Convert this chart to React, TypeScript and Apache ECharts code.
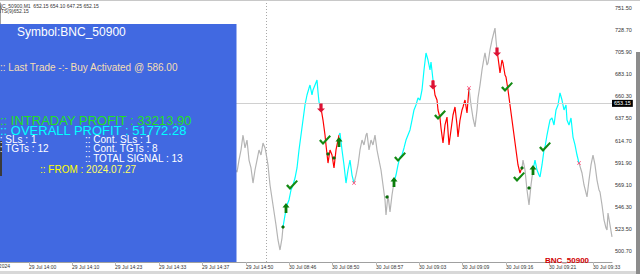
import React, { useEffect, useRef } from "react";
import * as echarts from "echarts";

// ---- price line (bar index, price) ----
const lineBars = [
  230, 234, 237, 239, 241, 243, 245, 247, 249, 251, 253, 255, 257, 259, 261, 263, 265, 266, 268, 270, 273, 276, 278, 280, 282, 283,
  285, 287, 289, 291, 293, 295, 297, 299, 301, 303, 305, 307, 309, 310, 312, 313, 315, 317, 318, 319, 321,
  323, 325, 326, 328, 330, 332, 334, 336, 338, 339,
  340, 342, 344, 346, 348, 350, 352, 354,
  356, 358, 360, 362, 364, 366, 367, 369, 371, 373, 375, 377, 379, 381, 383, 385, 386, 387, 388, 390, 392, 394,
  396, 398, 400, 402, 404, 406, 408, 410, 412, 414, 416, 418, 420, 422, 424, 426, 428, 430, 431, 433,
  435, 437, 438, 440, 441, 443, 445, 447, 449, 451, 453, 455, 457, 458, 460, 462, 463, 465, 467, 469,
  471, 473, 475, 477, 478, 480, 482, 484, 485, 487, 488, 490, 492, 494, 495, 496, 497,
  499, 500, 502, 503, 505, 506, 508, 510, 512, 514, 516, 518, 520, 521, 522,
  523, 525, 527, 529, 531, 533,
  535, 537, 539, 540, 542, 544, 545, 547, 549, 550, 552, 554, 556, 558, 560, 562, 564, 566, 567, 569, 571, 573, 575, 577, 579,
  582, 584, 587, 589, 591, 593, 595, 597, 599, 600, 602, 604, 606, 607, 608, 610, 612,
];
const linePrices = [
  594.5, 586.3, 582.1, 594.5, 604.9, 620.4, 607.0, 615.2, 594.5, 586.3, 570.7, 584.2, 594.5, 604.9, 599.7, 612.1, 607.0, 601.8, 589.4, 568.7, 548.0, 527.3, 511.8, 501.4, 513.8, 525.2,
  537.6, 548.0, 553.2, 563.5, 568.7, 575.9, 586.3, 604.9, 620.4, 635.9, 651.5, 661.8, 669.0, 672.1, 661.8, 667.0, 672.1, 677.3, 664.9, 654.6, 648.3,
  635.9, 620.4, 610.1, 591.4, 604.9, 599.7, 586.3, 604.9, 615.2, 620.4,
  622.5, 604.9, 589.4, 570.7, 584.2, 594.5, 579.0, 570.7,
  579.0, 589.4, 604.9, 615.2, 610.1, 620.4, 622.5, 604.9, 615.2, 610.1, 620.4, 604.9, 594.5, 584.2, 568.7, 553.2, 537.6, 548.0, 558.3, 540.7, 558.3, 571.8,
  579.0, 589.4, 597.6, 599.7, 607.0, 615.2, 620.4, 625.6, 635.9, 646.3, 651.5, 658.7, 656.6, 667.0, 687.7, 705.3, 698.0, 687.7, 695.9, 677.3,
  661.8, 656.6, 646.3, 638.0, 627.7, 612.1, 630.8, 639.0, 610.1, 625.6, 641.1, 649.4, 630.8, 618.3, 635.9, 646.3, 649.4, 656.6, 643.2, 669.0,
  651.5, 638.0, 628.7, 646.3, 658.7, 672.1, 687.7, 700.1, 705.3, 692.8, 694.9, 708.4, 718.7, 727.0, 731.1, 718.7, 708.4,
  692.8, 684.6, 698.0, 694.9, 682.5, 680.4, 667.0, 651.5, 635.9, 620.4, 604.9, 589.4, 581.1, 584.2, 586.3,
  594.5, 584.2, 563.5, 548.0, 568.7, 584.2,
  594.5, 584.2, 579.0, 577.0, 589.4, 604.9, 608.0, 620.4, 630.8, 635.9, 638.0, 630.8, 646.3, 651.5, 663.9, 656.6, 646.3, 651.5, 635.9, 630.8, 638.0, 618.3, 610.1, 599.7, 591.4,
  581.1, 568.7, 556.3, 573.8, 589.4, 599.7, 589.4, 573.8, 563.5, 561.4, 548.0, 532.5, 524.2, 522.1, 539.7, 527.3, 514.9,
];

// ---- trend segments ----
const segStart = [230, 283, 321, 339, 354, 394, 433, 469, 497, 522, 533, 579];
const segEnd = [283, 321, 339, 354, 394, 433, 469, 497, 522, 533, 579, 612];
const segTrend = ["flat", "up", "down", "up", "flat", "up", "down", "flat", "down", "flat", "up", "flat"];

// ---- signals ----
const buyBars = [286, 339, 394, 533];
const buyPrices = [544.9, 613.2, 571.8, 584.2];
const sellBars = [321, 433, 497];
const sellPrices = [648.3, 672.1, 706.3];
const targetBars = [292, 325, 400, 440, 507, 519, 545];
const targetPrices = [568.7, 615.2, 597.6, 641.1, 670.1, 577.0, 608.0];
const dotBars = [283, 328, 334, 387, 522, 529];
const dotPrices = [525.2, 600.8, 596.6, 556.3, 586.3, 565.6];
const exitBars = [354, 469, 579];
const exitPrices = [570.7, 669.0, 591.4];

// ---- axes ----
const yTicks = [500.7, 523.5, 546.3, 569.1, 591.9, 614.7, 637.5, 660.3, 683.1, 705.9, 728.7, 751.5];
const xLabelBars = [29, 72, 115, 159, 202, 246, 289, 332, 376, 419, 462, 506, 549, 593];
const xLabelTexts = [
  "29 Jul 14:00", "29 Jul 14:10", "29 Jul 14:23", "29 Jul 14:33", "29 Jul 14:37", "29 Jul 14:50",
  "30 Jul 08:46", "30 Jul 08:50", "30 Jul 08:57", "30 Jul 09:03", "30 Jul 09:09", "30 Jul 09:16",
  "30 Jul 09:21", "30 Jul 09:33",
];
const separatorBar = 266;
const bidPrice = 653.15;

const FONT = "'Liberation Sans', Arial, sans-serif";

const trendColors: Record<string, string> = { flat: "#b4b4b4", up: "#00ffff", down: "#ff0000" };

const UP_ARROW = "path://M4,0 L8,4.5 L5.6,4.5 L5.6,10 L2.4,10 L2.4,4.5 L0,4.5 Z";
const DOWN_ARROW = "path://M2.4,0 L5.6,0 L5.6,5.5 L8,5.5 L4,10 L0,5.5 L2.4,5.5 Z";
const CHECK = "path://M0,5.5 L1.8,4 L4,6.5 L10.5,0 L12,1.3 L4,9.5 Z";
const CROSS = "path://M0,1 L1,0 L5,4 L9,0 L10,1 L6,5 L10,9 L9,10 L5,6 L1,10 L0,9 L4,5 Z";

function txt(x: number, y: number, text: string, size: number, fill: string, extra: any = {}) {
  return {
    type: "text",
    x,
    y,
    z: 110,
    silent: true,
    style: {
      text,
      fill,
      fontSize: size,
      fontFamily: FONT,
      align: "left",
      verticalAlign: "middle",
      textAlign: "left",
      textVerticalAlign: "middle",
      ...extra,
    },
  };
}

export default function App() {
  const ref = useRef<HTMLDivElement>(null);

  useEffect(() => {
    if (!ref.current) return;
    const chart = echarts.init(ref.current, undefined, { renderer: "svg" });

    const lineSeries: any[] = segTrend.map((t, i) => ({
      type: "line",
      data: lineBars
        .map((b, j) => [b, linePrices[j]])
        .filter(([b]) => b >= segStart[i] && b <= segEnd[i]),
      symbol: "none",
      showSymbol: false,
      silent: true,
      z: 3,
      lineStyle: { color: trendColors[t], width: 1.2 },
    }));

    lineSeries[0].markLine = {
      silent: true,
      symbol: "none",
      animation: false,
      data: [
        {
          xAxis: separatorBar,
          lineStyle: { color: "#a8a8a8", type: [1, 2], width: 1 },
          label: { show: false },
        },
        {
          yAxis: bidPrice,
          lineStyle: { color: "#d0d0d0", type: "solid", width: 1 },
          label: {
            show: true,
            position: "end",
            distance: 0,
            formatter: bidPrice.toFixed(2),
            backgroundColor: "#000",
            color: "#fff",
            fontSize: 5.5,
            fontFamily: FONT,
            padding: [1, 2, 0, 2],
          },
        },
      ],
    };

    const scatter = (bars: number[], prices: number[], symbol: string, size: any, color: string) => ({
      type: "scatter",
      data: bars.map((b, i) => [b, prices[i]]),
      symbol,
      symbolSize: size,
      silent: true,
      z: 5,
      itemStyle: { color, opacity: 1 },
    });

    const option: any = {
      animation: false,
      backgroundColor: "#ffffff",
      grid: { left: 0, right: 28, top: 3, bottom: 12, containLabel: false },
      xAxis: {
        type: "value",
        min: 0,
        max: 612,
        axisLine: { show: true, lineStyle: { color: "#a0a0a0", width: 1 } },
        splitLine: { show: false },
        axisTick: { show: true, customValues: xLabelBars, length: 3, lineStyle: { color: "#b8b8b8" } },
        axisLabel: {
          customValues: xLabelBars,
          formatter: (v: number) => xLabelTexts[xLabelBars.indexOf(v)] ?? "",
          align: "left",
          fontSize: 5,
          color: "#333",
          margin: 2,
          fontFamily: FONT,
        },
      },
      yAxis: {
        type: "value",
        position: "right",
        min: 489,
        max: 757,
        axisLine: { show: true, lineStyle: { color: "#a0a0a0", width: 1 } },
        splitLine: { show: false },
        axisTick: { show: true, customValues: yTicks, length: 2, lineStyle: { color: "#888" } },
        axisLabel: {
          customValues: yTicks,
          formatter: (v: number) => v.toFixed(2),
          fontSize: 5.5,
          color: "#333",
          margin: 3,
          fontFamily: FONT,
        },
      },
      series: [
        ...lineSeries,
        scatter(dotBars, dotPrices, "diamond", 4, "#0a6e0a"),
        scatter(exitBars, exitPrices, CROSS, 4, "#ff3366"),
        scatter(buyBars, buyPrices, UP_ARROW, [7, 10], "#0b7d0b"),
        scatter(sellBars, sellPrices, DOWN_ARROW, [8, 9], "#dd1133"),
        scatter(targetBars, targetPrices, CHECK, [12, 10], "#138a13"),
      ],
      graphic: [
        { type: "rect", z: 90, silent: true, shape: { x: 0, y: 0, width: 640, height: 1 }, style: { fill: "#c8c8c8" } },
        { type: "rect", z: 90, silent: true, shape: { x: 0, y: 271, width: 640, height: 3 }, style: { fill: "#d8d8d8" } },
        { type: "rect", z: 90, silent: true, shape: { x: 636, y: 52, width: 4, height: 222 }, style: { fill: "#8c8c8c" } },
        txt(-5, 6, "BNC_50900,M1  652.15 654.10 647.25 652.15", 5, "#333"),
        txt(-6, 11, "BNTS(9)652.15", 5, "#333"),
        { type: "rect", z: 100, silent: true, shape: { x: 0, y: 24, width: 236.5, height: 238 }, style: { fill: "#4169e1" } },
        { type: "rect", z: 105, silent: true, shape: { x: 0, y: 141, width: 2, height: 35 }, style: { fill: "#3a3a3a" } },
        txt(17, 32, "Symbol:BNC_50900", 12, "#ffffff"),
        txt(0, 67, ":: Last Trade -:- Buy Activated @ 586.00", 10, "#f5deb3"),
        txt(0, 120, ":: INTRADAY PROFIT : 33213.90", 13, "#22e022"),
        txt(0, 130, ":: OVERALL PROFIT : 51772.28", 13, "#00ffff"),
        txt(-3, 139.5, ":: SLs : 1", 10, "#ffffff"),
        txt(85, 139.5, ":: Cont. SLs : 1", 10, "#ffffff"),
        txt(-3, 148.5, ":: TGTs : 12", 10, "#ffffff"),
        txt(85, 148.5, ":: Cont. TGTs : 8", 10, "#ffffff"),
        txt(85, 158, ":: TOTAL SIGNAL : 13", 10, "#ffffff"),
        {
          type: "text",
          x: 40,
          y: 169,
          z: 110,
          silent: true,
          style: {
            text: "{a|:: FROM : }{b|2024.07.27}",
            fontSize: 10,
            fontFamily: FONT,
            align: "left",
            verticalAlign: "middle",
            textAlign: "left",
            textVerticalAlign: "middle",
            rich: {
              a: { fill: "#ffff00", color: "#ffff00", fontSize: 10, fontFamily: FONT },
              b: { fill: "#ffff66", color: "#ffff66", fontSize: 10, fontFamily: FONT },
            },
          },
        },
        txt(10, 266, "29 Jul 2024", 5, "#333", { align: "right", textAlign: "right" }),
        txt(545, 260, "BNC_50900", 8, "#d00000", { fontWeight: "bold" }),
      ],
    };

    chart.setOption(option);
    return () => chart.dispose();
  }, []);

  return (
    <div
      ref={ref}
      style={{ position: "fixed", left: 0, top: 0, width: 640, height: 274, background: "#fff" }}
    />
  );
}
